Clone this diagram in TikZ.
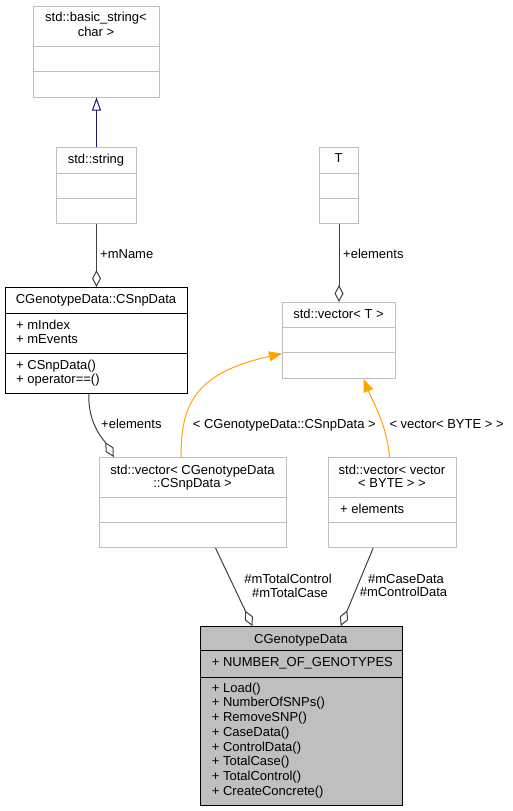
\documentclass[tikz,border=0pt]{standalone}
\usepackage{fontspec}
\setmainfont{Liberation Sans}
\usetikzlibrary{arrows.meta}
\definecolor{boxgray}{HTML}{BFBFBF}
\definecolor{edgegray}{HTML}{404040}
\definecolor{inhblue}{HTML}{191970}
\definecolor{tplorange}{HTML}{FFA500}
\begin{document}
\begin{tikzpicture}[x=1pt,y=-1pt,
  box/.style={draw=boxgray, line width=1pt, fill=white, inner sep=0pt, anchor=north west, rectangle},
  mainbox/.style={draw=black, line width=1pt, inner sep=0pt, anchor=north west, rectangle},
  gline/.style={draw=boxgray, line width=1pt},
  bline/.style={draw=black, line width=1pt},
  txt/.style={inner sep=0pt, font=\fontsize{13}{15}\selectfont},
  inh/.style={draw=inhblue, line width=1pt, -{Triangle[open, length=13pt, width=9pt]}},
  use/.style={draw=edgegray, line width=1pt, -{Diamond[open, length=17pt, width=9pt]}},
  tpl/.style={draw=tplorange, line width=1pt, -{Triangle[length=13pt, width=10pt]}, tplorange}]
\useasboundingbox[fill=white] (0,0) rectangle (512,811);

% ---- boxes ----
\node[box, minimum width=126pt, minimum height=90.5pt] (bs) at (33,6) {};
\draw[gline] (33,46) -- (159,46) (33,71) -- (159,71);
\node[txt, anchor=base] (bst1) at (96,21.4) {std::basic\_string<};
\node[txt, anchor=base] (bst2) at (96,36.9) {char >};

\node[box, minimum width=80pt, minimum height=76pt] (str) at (56,147) {};
\draw[gline] (56,173) -- (136,173) (56,198) -- (136,198);
\node[txt, anchor=base] (strt) at (96,163) {std::string};

\node[mainbox, fill=white, minimum width=182pt, minimum height=106pt] (snp) at (5,287) {};
\draw[bline] (5,313) -- (187,313) (5,353) -- (187,353);
\node[txt, anchor=base] (snpt) at (96,303) {CGenotypeData::CSnpData};
\node[txt, anchor=base west] (snpa1) at (16,329) {+ mIndex};
\node[txt, anchor=base west] (snpa2) at (16,343) {+ mEvents};
\node[txt, anchor=base west] (snpm1) at (16,369) {+ CSnpData()};
\node[txt, anchor=base west] (snpm2) at (16,383.5) {+ operator==()};

\node[box, minimum width=39pt, minimum height=76pt] (T) at (319,147) {};
\draw[gline] (319,173) -- (358,173) (319,198) -- (358,198);
\node[txt, anchor=base] (Tt) at (338.5,162.7) {T};

\node[box, minimum width=113pt, minimum height=76pt] (vecT) at (282,302) {};
\draw[gline] (282,327.5) -- (395,327.5) (282,352.7) -- (395,352.7);
\node[txt, anchor=base] (vecTt) at (338.5,318) {std::vector< T >};

\node[box, minimum width=187pt, minimum height=90pt] (vecSnp) at (99,457) {};
\draw[gline] (99,497) -- (286,497) (99,522) -- (286,522);
\node[txt, anchor=base] (vecSnpt1) at (192.5,474) {std::vector< CGenotypeData};
\node[txt, anchor=base] (vecSnpt2) at (192.5,487.5) {::CSnpData >};

\node[box, minimum width=128pt, minimum height=90pt] (vecByte) at (328,457) {};
\draw[gline] (328,497) -- (456,497) (328,522) -- (456,522);
\node[txt, anchor=base] (vecBytet1) at (392,474) {std::vector< vector};
\node[txt, anchor=base] (vecBytet2) at (392,487.5) {< BYTE > >};
\node[txt, anchor=base west] (vecBytea) at (340,513) {+ elements};

\node[mainbox, fill=boxgray, minimum width=202.5pt, minimum height=179pt] (gene) at (199.5,626) {};
\draw[bline] (199.5,650) -- (402,650) (199.5,677) -- (402,677);
\node[txt, anchor=base] (genet) at (300.75,643.7) {CGenotypeData};
\node[txt, anchor=base west] (genea) at (211.7,666.4) {+ NUMBER\_OF\_GENOTYPES};
\foreach \m [count=\i from 0] in {Load(),NumberOfSNPs(),RemoveSNP(),CaseData(),ControlData(),TotalCase(),TotalControl(),CreateConcrete()}
  \node[txt, anchor=base west] (gm\i) at (211.7,{692+14.76*\i}) {+ \m};

% ---- connectors ----
\draw[inh] (str.north) -- (bs.south);
\draw[use] (str.south) -- (snp.north);
\node[txt, anchor=base west] (lmname) at (100,258.7) {+mName};

\draw[use] (T.south) -- (vecT.north);
\node[txt, anchor=base west] (lelT) at (343,258.7) {+elements};

\draw[use] ([xshift=-7.7pt]snp.south) .. controls (88,425) and (104,440) .. ([xshift=-79.2pt]vecSnp.north);
\node[txt, anchor=base west] (lelS) at (101,428) {+elements};

\draw[tpl] ([xshift=-11.8pt]vecSnp.north) .. controls (180,400) and (200,372) .. ([yshift=-13pt]vecT.west);
\node[txt, anchor=base west] (ltpl1) at (192.7,428) {< CGenotypeData::CSnpData >};

\draw[tpl] ([xshift=-3pt]vecByte.north) .. controls (387,425) and (372,400) .. ([xshift=24.5pt]vecT.south);
\node[txt, anchor=base west] (ltpl2) at (389.3,428) {< vector< BYTE > >};

\draw[use] ([xshift=22.5pt]vecSnp.south) -- ([xshift=-48.75pt]gene.north);
\node[txt, anchor=base] (ltc1) at (288,583.7) {\#mTotalControl};
\node[txt, anchor=base] (ltc2) at (290,597) {\#mTotalCase};

\draw[use] ([xshift=-19.3pt]vecByte.south) -- ([xshift=39.5pt]gene.north);
\node[txt, anchor=base] (lcd1) at (406,583.3) {\#mCaseData};
\node[txt, anchor=base] (lcd2) at (403.5,596.7) {\#mControlData};
\end{tikzpicture}
\end{document}
